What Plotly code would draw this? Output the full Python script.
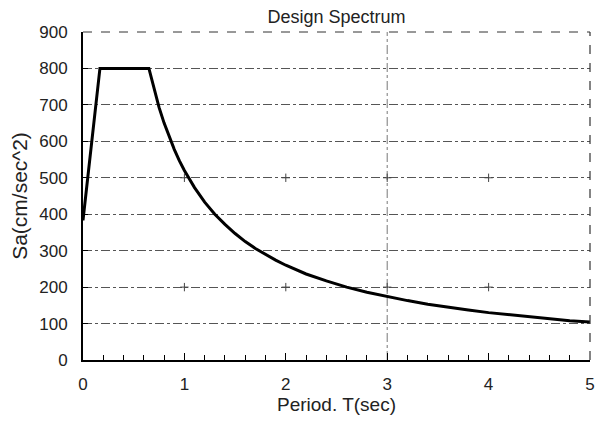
import plotly.graph_objects as go

# Design response spectrum: period T (sec) vs spectral acceleration Sa (cm/sec^2)
period = [0.0, 0.167, 0.65, 0.7, 0.75, 0.8, 0.85, 0.9, 0.95, 1.0, 1.1, 1.2, 1.3, 1.4,
          1.5, 1.6, 1.7, 1.8, 1.9, 2.0, 2.2, 2.4, 2.6, 2.8, 3.0, 3.2, 3.4, 3.6, 3.8,
          4.0, 4.2, 4.4, 4.6, 4.8, 5.0]
sa = [383, 800, 800, 743, 693, 650, 612, 578, 547, 520, 473, 433, 400, 372,
      347, 325, 306, 289, 274, 260, 236, 217, 200, 186, 174, 163, 153, 144, 137,
      130, 124, 118, 113, 108, 104]

x_ticks = [0, 1, 2, 3, 4, 5]
y_ticks = [0, 100, 200, 300, 400, 500, 600, 700, 800, 900]

# small cross marks at grid intersections
cross_t = [1, 2, 3, 4, 1, 2, 3, 4]
cross_sa = [200, 200, 200, 200, 500, 500, 500, 500]

font_family = "Liberation Sans, Arial, sans-serif"

fig = go.Figure()

fig.add_trace(go.Scatter(
    x=cross_t, y=cross_sa, mode="markers",
    marker=dict(symbol="cross-thin", size=6, line=dict(color="#444", width=1)),
    hoverinfo="skip", showlegend=False,
))

fig.add_trace(go.Scatter(
    x=period, y=sa, mode="lines",
    line=dict(color="black", width=3),
    showlegend=False,
))

# vertical reference line at T = 3
fig.add_shape(type="line", xref="x", yref="paper", x0=3, x1=3, y0=0, y1=1,
              line=dict(color="#777", width=1, dash="dashdot"), layer="below")
# dashed top and right borders of the plot frame
fig.add_shape(type="line", xref="paper", yref="paper", x0=0, x1=1, y0=1, y1=1,
              line=dict(color="#333", width=1, dash="dash"))
fig.add_shape(type="line", xref="paper", yref="paper", x0=1, x1=1, y0=0, y1=1,
              line=dict(color="#333", width=1.2, dash="dash"))

fig.update_layout(
    width=603, height=421,
    margin=dict(l=83, r=13, t=32, b=61),
    paper_bgcolor="white", plot_bgcolor="white",
    font=dict(family=font_family, color="#222", size=16),
    title=dict(text="Design Spectrum", x=0.5, xanchor="center",
               xref="paper", y=0.96, yanchor="middle",
               font=dict(size=18, color="#222")),
    xaxis=dict(
        range=[0, 5], tickvals=x_ticks, ticktext=[str(v) for v in x_ticks],
        showgrid=False, zeroline=False, automargin=False,
        showline=True, linecolor="black", linewidth=2,
        ticks="inside", ticklen=7, tickcolor="black", tickwidth=1,
        minor=dict(dtick=0.2, ticks="inside", ticklen=5, tickcolor="black"),
        tickfont=dict(size=17), ticklabelstandoff=8,
        title=dict(text="Period. T(sec)", font=dict(size=19), standoff=2),
    ),
    yaxis=dict(
        range=[0, 900], tickvals=y_ticks, ticktext=[str(v) for v in y_ticks],
        showgrid=True, gridcolor="#555", gridwidth=1, griddash="dashdot",
        zeroline=False, automargin=False,
        showline=True, linecolor="black", linewidth=2,
        ticks="inside", ticklen=5, tickcolor="black",
        tickfont=dict(size=17), ticklabelstandoff=10,
        title=dict(text="Sa(cm/sec^2)", font=dict(size=21), standoff=6),
    ),
)

fig.write_html("out.html")
